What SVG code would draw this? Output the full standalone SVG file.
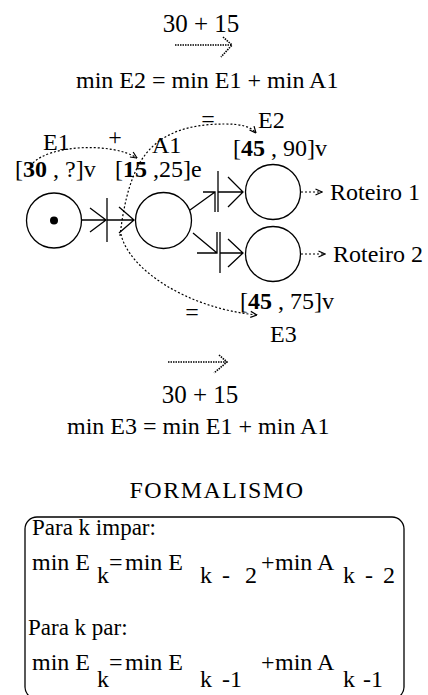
<svg xmlns="http://www.w3.org/2000/svg" width="428" height="695" viewBox="0 0 428 695">
<defs>
<style>
text{font-family:"Liberation Serif","Times New Roman",serif;font-size:24px;fill:#000}
.b{font-weight:bold}
.m{text-anchor:middle}
.f{font-size:23px}
.node{fill:#fff;stroke:#000;stroke-width:1.3}
.ln{stroke:#000;stroke-width:1.3;fill:none}
.dot{stroke:#000;stroke-width:1.2;fill:none;stroke-dasharray:2 2}
.dd{stroke:#000;stroke-width:1.6;fill:none;stroke-dasharray:1.5 1}
</style>
<marker id="ah" viewBox="0 0 8 8" refX="7.5" refY="4" markerWidth="8" markerHeight="8" markerUnits="userSpaceOnUse" orient="auto"><path d="M1,1 L7.5,4 L1,7" fill="none" stroke="#000" stroke-width="1.2"/></marker>
</defs>
<rect width="428" height="695" fill="#fff"/>

<!-- top equation -->
<g id="eq-top">
<text class="m" x="201" y="32" style="font-size:25px">30 + 15</text>
<path class="dd" d="M175,45 H232 M223,37 L232,45 L221,57"/>
<text x="76" y="88">min E2 = min E1 + min A1</text>
</g>

<!-- nodes -->
<g id="E1">
<circle class="node" cx="54" cy="220.5" r="27.5"/>
<circle cx="54" cy="220.5" r="4" fill="#000"/>
<text x="43" y="150">E1</text>
<text x="15" y="177">[<tspan class="b">30</tspan> , ?]v</text>
</g>
<g id="A1">
<circle class="node" cx="163.5" cy="220.5" r="28"/>
<text x="152" y="153">A1</text>
<text x="115" y="177">[<tspan class="b">15</tspan> ,25]e</text>
</g>
<g id="E2">
<circle class="node" cx="273" cy="192" r="27.5"/>
<text x="258" y="128">E2</text>
<text x="233" y="156">[<tspan class="b">45</tspan> , 90]v</text>
<text x="330" y="200">Roteiro 1</text>
</g>
<g id="E3">
<circle class="node" cx="273" cy="254" r="27.5"/>
<text x="240" y="309">[<tspan class="b">45</tspan> , 75]v</text>
<text x="270" y="342">E3</text>
<text x="333" y="262">Roteiro 2</text>
</g>

<!-- transitions -->
<g id="T1"><path class="ln" d="M107,198 V242"/></g>
<g id="T2"><path class="ln" d="M218,171 V212"/></g>
<g id="T3"><path class="ln" d="M220,232 V273"/></g>

<!-- connectors -->
<g id="connectors">
<path class="ln" d="M82,220 H106 M90,208 L106,220 L90,232"/>
<path class="ln" d="M107,220 H134 M119,207 L134,220 L119,233"/>
<path class="ln" d="M190,210 L215,192 M203,192 H215 V212"/>
<path class="ln" d="M218,192 H243 M228,177 L243,192 L228,207"/>
<path class="ln" d="M193,233 L217,253 M197,253 H217 V232"/>
<path class="ln" d="M220,253 H243 M228,239 L243,253 L228,267"/>
<path class="dot" d="M301,192 H322" marker-end="url(#ah)"/>
<path class="dot" d="M301,254 H325" marker-end="url(#ah)"/>
<path class="dot" d="M33,163 C50,145 112,142 137,158" marker-end="url(#ah)"/>
<path class="dot" d="M120,236 C124,200 132,172 145,155 C165,128 200,124 225,124 C240,124 250,126 256,133" marker-end="url(#ah)"/>
<path class="dot" d="M121,234 C128,268 185,308 257,315" marker-end="url(#ah)"/>
<text x="115" y="145" class="m">+</text>
<text x="208" y="127" class="m">=</text>
<text x="192" y="320" class="m">=</text>
</g>

<!-- bottom equation -->
<g id="eq-bottom">
<path class="dd" d="M168,362 H227 M219,355 L227,362 L214,373"/>
<text class="m" x="200" y="403" style="font-size:25px">30 + 15</text>
<text x="67" y="434">min E3 = min E1 + min A1</text>
</g>

<!-- formalism -->
<g id="formalismo">
<text class="m" x="217" y="498" style="letter-spacing:1.5px">FORMALISMO</text>
<rect x="25" y="517" width="379" height="182" rx="12" fill="none" stroke="#000" stroke-width="1.3"/>
<text class="f" x="32" y="535">Para k impar:</text>
<text x="32" y="570">min E</text>
<text x="97" y="583">k</text>
<text x="109" y="570">=</text>
<text x="125" y="570">min E</text>
<text x="200" y="583">k</text><text x="222" y="583">-</text><text x="245" y="583">2</text>
<text x="261" y="570">+</text>
<text x="275" y="570">min A</text>
<text x="343" y="583">k</text><text x="365" y="583">-</text><text x="383" y="583">2</text>
<text class="f" x="28" y="635">Para k par:</text>
<text x="32" y="670">min E</text>
<text x="97" y="687">k</text>
<text x="109" y="670">=</text>
<text x="125" y="670">min E</text>
<text x="200" y="687">k</text><text x="222" y="687">-1</text>
<text x="261" y="670">+</text>
<text x="275" y="670">min A</text>
<text x="343" y="687">k</text><text x="363" y="687">-1</text>
</g>
</svg>
